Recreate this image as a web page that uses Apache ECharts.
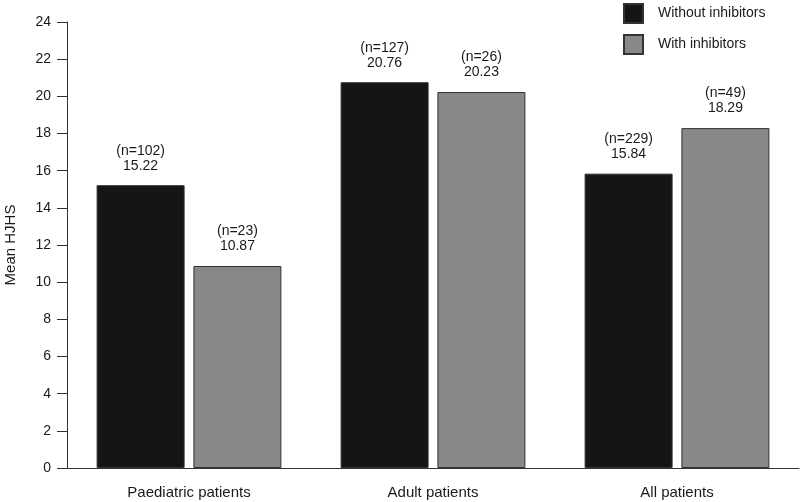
<!DOCTYPE html>
<html>
<head>
<meta charset="utf-8">
<script src="https://cdn.jsdelivr.net/npm/echarts@6/dist/echarts.min.js"></script>
<style>
    html, body { margin: 0; padding: 0; background: #fff; }
    #chart { width: 800px; height: 502px; }
</style>
</head>
<body>
<div id="chart"></div>
<script>
let categories = ['Paediatric patients', 'Adult patients', 'All patients'];
let seriesNames = ['Without inhibitors', 'With inhibitors'];
let meanWithout = [15.22, 20.76, 15.84];
let meanWith = [10.87, 20.23, 18.29];
let nWithout = [102, 127, 229];
let nWith = [23, 26, 49];
let yTicks = [0, 2, 4, 6, 8, 10, 12, 14, 16, 18, 20, 22, 24];

let myChart = echarts.init(document.getElementById('chart'));

// label: "(n=..)" over the mean value
let makeLabel = (counts) => {
    return {
        show: true,
        position: 'top',
        distance: 12,
        color: '#1a1a1a',
        fontFamily: 'Liberation Sans',
        fontSize: 14,
        lineHeight: 15,
        formatter: function (param) {
            return '(n=' + counts[param.dataIndex] + ')\n' + param.value.toFixed(2);
        }
    };
};

let option = {
    animation: false,
    textStyle: { fontFamily: 'Liberation Sans' },
    grid: {
        left: 67,
        right: 1,
        top: 22,
        bottom: 34,
        containLabel: false,
        outerBoundsMode: 'none'
    },
    legend: {
        orient: 'vertical',
        left: 618,
        top: -2,
        itemWidth: 19,
        itemHeight: 19,
        itemGap: 10,
        icon: 'rect',
        textStyle: { fontSize: 14, color: '#1a1a1a', fontFamily: 'Liberation Sans', padding: [0, 0, 0, 10] },
        data: seriesNames
    },
    xAxis: {
        type: 'category',
        data: categories,
        axisLine: { show: true, lineStyle: { color: '#333', width: 1 } },
        axisTick: { show: false },
        axisLabel: { fontSize: 15, color: '#1a1a1a', margin: 17 }
    },
    yAxis: {
        type: 'value',
        min: yTicks[0],
        max: yTicks[yTicks.length - 1],
        interval: 2,
        name: 'Mean HJHS',
        nameLocation: 'middle',
        nameGap: 49,
        nameTextStyle: { fontSize: 15, color: '#1a1a1a' },
        axisLine: { show: true, lineStyle: { color: '#333', width: 1 } },
        axisTick: { show: true, length: 10, lineStyle: { color: '#333' } },
        axisLabel: { fontSize: 14, color: '#1a1a1a', margin: 16 },
        splitLine: { show: false }
    },
    series: [
        {
            name: seriesNames[0],
            type: 'bar',
            data: meanWithout,
            barWidth: 88,
            barGap: '10%',
            itemStyle: { color: '#151515', borderColor: '#333', borderWidth: 1 },
            label: makeLabel(nWithout)
        },
        {
            name: seriesNames[1],
            type: 'bar',
            data: meanWith,
            barWidth: 88,
            barGap: '10%',
            itemStyle: { color: '#888888', borderColor: '#333', borderWidth: 1 },
            label: makeLabel(nWith)
        }
    ]
};
myChart.setOption(option);
</script>
</body>
</html>
